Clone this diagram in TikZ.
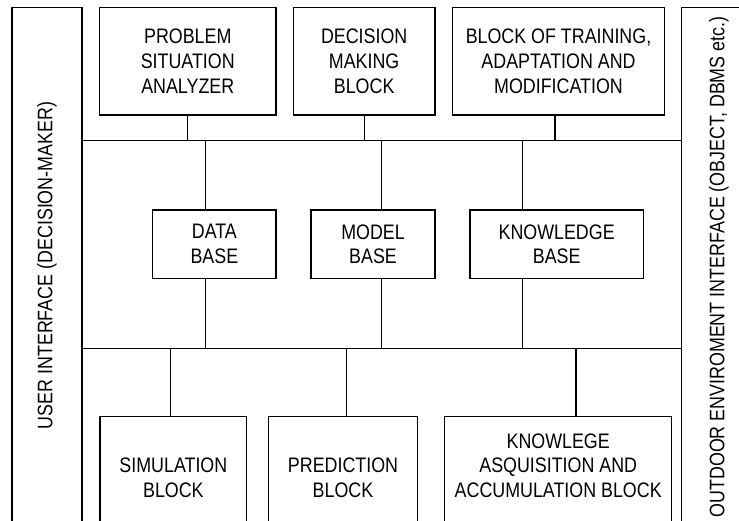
\documentclass[tikz,border=0pt]{standalone}
\usepackage{fontspec}
\newfontfamily\narrowfont[FakeStretch=0.85]{Liberation Sans}
\begin{document}
\begin{tikzpicture}[x=1pt,y=-1pt,
  lw/.style={line width=1.5pt},
  box/.style={draw,lw,rectangle,inner sep=0pt,align=center,
    font=\narrowfont\fontsize{21}{24.7}\selectfont},
  txt/.style={inner sep=0pt,align=center,
    font=\narrowfont\fontsize{21}{24.7}\selectfont},
  conn/.style={lw}]
\useasboundingbox (0,0) rectangle (739,521);
\clip (0,0) rectangle (739,521);
% side panels
\node[box,minimum width=70pt,minimum height=552.7pt] (left) at (47,283.65) {};
\node[txt,rotate=90] (lefttxt) at (47,265.5) {USER INTERFACE (DECISION-MAKER)};
\node[box,minimum width=78.3pt,minimum height=552.7pt] (right) at (720.85,283.65) {};
\node[txt,rotate=90] (righttxt) at (719,267) {OUTDOOR ENVIROMENT INTERFACE (OBJECT, DBMS etc.)};
% top row
\node[box,minimum width=176.5pt,minimum height=107.7pt] (psa) at (187.75,61.15) {PROBLEM\\SITUATION\\ANALYZER};
\node[box,minimum width=141.7pt,minimum height=107.7pt] (dmb) at (364.15,61.15) {DECISION\\MAKING\\BLOCK};
\node[box,minimum width=211.6pt,minimum height=107.7pt] (bta) at (558.5,61.15) {BLOCK OF TRAINING,\\ADAPTATION AND\\MODIFICATION};
% middle row
\node[box,minimum width=123.3pt,minimum height=68.3pt] (db) at (214.35,244.15) {DATA\\BASE};
\node[box,minimum width=124pt,minimum height=68.3pt] (mb) at (373,244.15) {MODEL\\BASE};
\node[box,minimum width=173.3pt,minimum height=68.3pt] (kb) at (556.65,244.15) {KNOWLEDGE\\BASE};
% bottom row
\node[box,minimum width=146.7pt,minimum height=143.3pt] (sb) at (173.35,488.35) {};
\node[txt] (sbt) at (173.35,477.5) {SIMULATION\\BLOCK};
\node[box,minimum width=148.6pt,minimum height=143.3pt] (pb) at (343,488.35) {};
\node[txt] (pbt) at (343,477.5) {PREDICTION\\BLOCK};
\node[box,minimum width=227pt,minimum height=143.3pt] (kab) at (558.2,488.35) {};
\node[txt] (kabt) at (558.2,465.7) {KNOWLEGE\\ASQUISITION AND\\ACCUMULATION BLOCK};
% buses
\coordinate (b1l) at (82,140.7);
\coordinate (b1r) at (681.7,140.7);
\coordinate (b2l) at (82,348.3);
\coordinate (b2r) at (681.7,348.3);
\draw[conn] (b1l) -- (b1r);
\draw[conn] (b2l) -- (b2r);
% taps
\coordinate (t1) at (187.7,140.7);
\coordinate (t2) at (364.3,140.7);
\coordinate (t3) at (555,140.7);
\coordinate (m1) at (205.7,140.7);
\coordinate (m2) at (381.7,140.7);
\coordinate (m3) at (522.7,140.7);
\coordinate (n1) at (205.7,348.3);
\coordinate (n2) at (381.7,348.3);
\coordinate (n3) at (522.7,348.3);
\coordinate (p1) at (170.3,348.3);
\coordinate (p2) at (346.7,348.3);
\coordinate (p3) at (576,348.3);
\draw[conn] (psa.south -| t1) -- (t1);
\draw[conn] (dmb.south -| t2) -- (t2);
\draw[conn] (bta.south -| t3) -- (t3);
\draw[conn] (m1) -- (db.north -| m1);
\draw[conn] (m2) -- (mb.north -| m2);
\draw[conn] (m3) -- (kb.north -| m3);
\draw[conn] (db.south -| n1) -- (n1);
\draw[conn] (mb.south -| n2) -- (n2);
\draw[conn] (kb.south -| n3) -- (n3);
\draw[conn] (p1) -- (sb.north -| p1);
\draw[conn] (p2) -- (pb.north -| p2);
\draw[conn] (p3) -- (kab.north -| p3);
\end{tikzpicture}
\end{document}
